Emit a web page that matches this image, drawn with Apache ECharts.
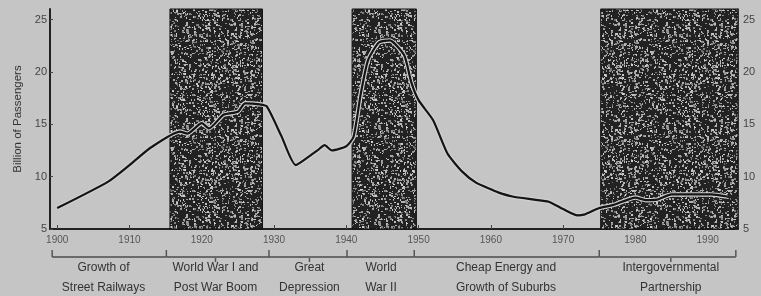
<!DOCTYPE html>
<html><head><meta charset="utf-8">
<script src="https://cdn.jsdelivr.net/npm/echarts@6/dist/echarts.min.js"></script>
<style>html,body{margin:0;padding:0;background:#c5c5c5}#c{width:761px;height:296px}</style>
</head><body><div id="c"></div>
<script>
// ---- data ----
const years = [1900, 1907, 1910, 1913, 1917, 1918, 1920, 1921, 1923, 1925, 1926, 1928, 1929, 1931, 1933, 1935, 1936, 1937, 1938, 1940, 1941, 1942, 1943, 1944.5, 1946, 1948, 1949, 1950, 1952, 1954, 1956, 1958, 1960, 1961, 1963, 1966, 1968, 1970, 1972, 1973, 1975, 1977, 1980, 1981.5, 1983, 1985, 1987, 1990.5, 1992.7];
const passengers = [7.0, 9.5, 11.1, 12.8, 14.3, 14.1, 15.1, 14.6, 15.9, 16.2, 17.0, 16.9, 16.7, 13.9, 11.1, 12.0, 12.5, 13.0, 12.5, 12.9, 13.8, 17.9, 21.1, 22.8, 23.0, 21.6, 19.0, 17.3, 15.4, 12.2, 10.5, 9.4, 8.8, 8.5, 8.1, 7.8, 7.6, 6.9, 6.3, 6.4, 7.0, 7.3, 8.0, 7.75, 7.8, 8.3, 8.3, 8.3, 8.1];
const periodStarts = [1915.6, 1940.8, 1975.2];
const periodEnds = [1928.4, 1949.7, 1994.2];
const xTicks = [1900, 1910, 1920, 1930, 1940, 1950, 1960, 1970, 1980, 1990];
const yTicks = [5, 10, 15, 20, 25];
const eraStarts = [1899.3, 1915.1, 1929.3, 1940.1, 1949.4, 1975.0];
const eraEnds = [1915.1, 1929.3, 1940.1, 1949.4, 1975.0, 1993.9];
const eraLabelYears = [1906.4, 1921.9, 1934.9, 1944.8, 1962.1, 1984.9];
const eraNames = ['Growth of\nStreet Railways', 'World War I and\nPost War Boom', 'Great\nDepression', 'World\nWar II', 'Cheap Energy and\nGrowth of Suburbs', 'Intergovernmental\nPartnership'];
const eraMarked = [false, true, true, false, false, true];

// ---- texture for shaded periods (deterministic speckle) ----
function speckle() {
  const n = 96;
  const c = document.createElement('canvas'); c.width = c.height = n;
  const g = c.getContext('2d');
  g.fillStyle = '#222'; g.fillRect(0, 0, n, n);
  let s = 12345;
  const next = () => { s = (Math.imul(s, 1103515245) + 12345) >>> 0; return (s >>> 8) / 16777216; };
  for (let i = 0; i < 1300; i++) {
    const x = Math.floor(next() * n), y = Math.floor(next() * n);
    const v = 110 + Math.floor(next() * 100);
    g.fillStyle = 'rgb(' + v + ',' + v + ',' + v + ')';
    g.fillRect(x, y, next() < 0.5 ? 1 : 2, next() < 0.5 ? 1 : 2);
  }
  return c;
}

const lineData = years.map((y, i) => [y, passengers[i]]);
const eraData = eraStarts.map((s, i) => [s, eraEnds[i], eraLabelYears[i], i]);
const FONT = '"Liberation Sans", Arial, sans-serif';

const chart = echarts.init(document.getElementById('c'), null, { renderer: 'canvas' });
chart.setOption({
  backgroundColor: '#c5c5c5',
  animation: false,
  grid: [
    { left: 50, right: 23, top: 9, bottom: 67 },
    { left: 50, right: 23, top: 249, height: 8 }
  ],
  xAxis: [
    {
      type: 'value', gridIndex: 0, min: 1899, max: 1994.2,
      splitLine: { show: false },
      axisLine: { lineStyle: { color: '#222', width: 2 } },
      axisTick: { inside: true, length: 4, customValues: xTicks, lineStyle: { color: '#444' } },
      axisLabel: { customValues: xTicks, formatter: v => String(v), color: '#555', fontSize: 10, fontFamily: FONT, margin: 6 }
    },
    { type: 'value', gridIndex: 1, min: 1899, max: 1994.2, show: false }
  ],
  yAxis: [
    {
      type: 'value', gridIndex: 0, min: 5, max: 26, position: 'left',
      name: 'Billion of Passengers', nameLocation: 'middle', nameGap: 25, nameRotate: 90,
      nameTextStyle: { color: '#333', fontSize: 11.5, fontFamily: FONT },
      splitLine: { show: false },
      axisLine: { show: true, lineStyle: { color: '#222', width: 2 } },
      axisTick: { show: true, inside: true, length: 3, customValues: yTicks, lineStyle: { color: '#444' } },
      axisLabel: { customValues: yTicks, color: '#444', fontSize: 11, fontFamily: FONT, margin: 3 }
    },
    {
      type: 'value', gridIndex: 0, min: 5, max: 26, position: 'right',
      splitLine: { show: false },
      axisLine: { show: true, lineStyle: { color: '#222', width: 1.5 } },
      axisTick: { show: true, inside: true, length: 3, customValues: yTicks, lineStyle: { color: '#444' } },
      axisLabel: { customValues: yTicks, color: '#444', fontSize: 11, fontFamily: FONT, margin: 5 }
    },
    { type: 'value', gridIndex: 1, min: 0, max: 1, show: false }
  ],
  series: [
    {
      type: 'line', xAxisIndex: 0, yAxisIndex: 0, data: lineData,
      symbol: 'none', smooth: 0.2, z: 2,
      lineStyle: { color: '#d0d0d0', width: 4.5 },
      markArea: {
        silent: true,
        itemStyle: { color: { image: speckle(), repeat: 'repeat' }, borderColor: '#111', borderWidth: 1, opacity: 1 },
        data: periodStarts.map((s, i) => [{ xAxis: s }, { xAxis: periodEnds[i] }])
      }
    },
    {
      type: 'line', xAxisIndex: 0, yAxisIndex: 0, data: lineData,
      symbol: 'none', smooth: 0.2, z: 3,
      lineStyle: { color: '#141414', width: 2.2 }
    },
    {
      type: 'custom', xAxisIndex: 1, yAxisIndex: 2, data: eraData, silent: true,
      renderItem: function (params, api) {
        const s = api.coord([api.value(0), 0]);
        const e = api.coord([api.value(1), 0]);
        const m = api.coord([api.value(2), 0]);
        const idx = api.value(3);
        const y = s[1];
        const children = [
          { type: 'line', shape: { x1: s[0], y1: y, x2: e[0], y2: y }, style: { stroke: '#6a6a6a', lineWidth: 2 } },
          { type: 'line', shape: { x1: s[0], y1: y - 7, x2: s[0], y2: y }, style: { stroke: '#555', lineWidth: 1.5 } },
          { type: 'text', style: { text: eraNames[idx], x: m[0], y: y + 1, align: 'center', verticalAlign: 'top', font: '12px ' + FONT, fill: '#333', lineHeight: 20 } }
        ];
        if (idx === eraStarts.length - 1) {
          children.push({ type: 'line', shape: { x1: e[0], y1: y - 7, x2: e[0], y2: y }, style: { stroke: '#555', lineWidth: 1.5 } });
        }
        if (eraMarked[idx]) {
          children.push({ type: 'line', shape: { x1: m[0], y1: y + 1, x2: m[0], y2: y + 5 }, style: { stroke: '#555', lineWidth: 1.5 } });
        }
        return { type: 'group', children: children };
      }
    }
  ]
});
</script>
</body></html>
